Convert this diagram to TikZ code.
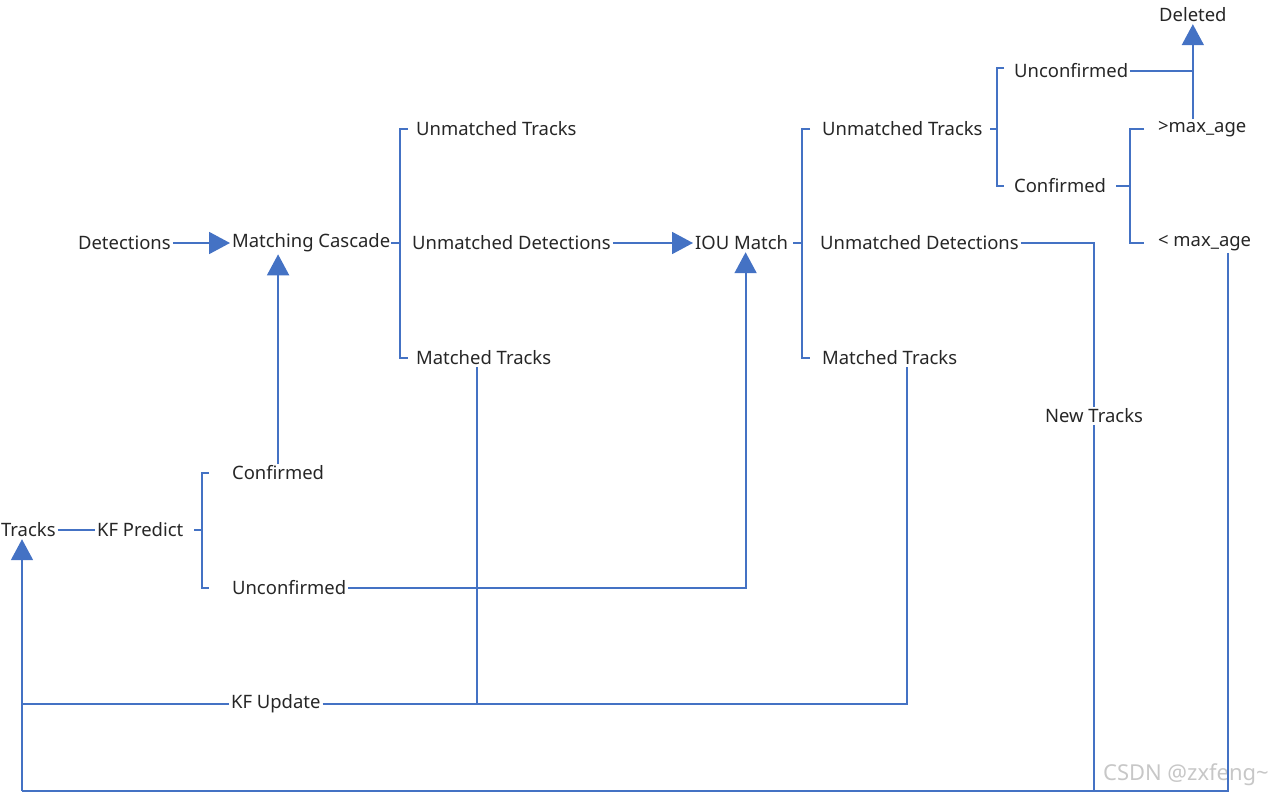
\documentclass[tikz,border=0pt]{standalone}
\usepackage{fontspec}
\setmainfont{Noto Sans}
\usetikzlibrary{arrows.meta, calc}
\definecolor{flowblue}{HTML}{4472C4}
\tikzstyle{txt} = [inner sep=1pt, anchor=west, font=\fontsize{10.5}{12}\selectfont, text=black!85]
\tikzstyle{link} = [draw=flowblue, line width=1.1pt]
\tikzstyle{arrow} = [link, -{Triangle[width=0.44cm, length=0.42cm]}]

\begin{document}
\begin{tikzpicture}[x=0.02cm, y=-0.02cm]
\useasboundingbox (0,0) rectangle (1280,797);

\node (det) [txt] at (76,243) {Detections};
\node (mc) [txt] at (230,243) {Matching Cascade};
\node (ut1) [txt] at (414,129) {Unmatched Tracks};
\node (ud1) [txt] at (410,243) {Unmatched Detections};
\node (mt1) [txt] at (414,358) {Matched Tracks};
\node (iou) [txt] at (693,243) {IOU Match};
\node (ut2) [txt] at (820,129) {Unmatched Tracks};
\node (ud2) [txt] at (818,243) {Unmatched Detections};
\node (mt2) [txt] at (820,358) {Matched Tracks};
\node (unc) [txt] at (1012,71) {Unconfirmed};
\node (conf) [txt] at (1012,186) {Confirmed};
\node (del) [txt] at (1157,15) {Deleted};
\node (gt) [txt] at (1156,129) {>max\_age};
\node (lt) [txt] at (1156,243) {< max\_age};
\node (nt) [txt, anchor=center] at (1094,416) {New Tracks};
\node (tracks) [txt] at (-1,530) {Tracks};
\node (kfp) [txt] at (95,530) {KF Predict};
\node (kconf) [txt] at (230,473) {Confirmed};
\node (kunc) [txt] at (230,588) {Unconfirmed};
\node (kfu) [txt] at (229,704) {KF Update};
\node (mark) [txt, text=black!22, font=\fontsize{12.5}{14}\selectfont] at (1101,775) {CSDN @zxfeng\textasciitilde};
\coordinate (bl) at (22,791);

% brackets
\draw [link] ($(ut1.west)+(-6,0)$) -- ++(-8,0) coordinate (b1) |- ($(mt1.west)+(-6,0)$);
\draw [link] (b1 |- mc) -- ++(-9,0);
\draw [link] ($(ut2.west)+(-10,0)$) -- ++(-8,0) coordinate (b2) |- ($(mt2.west)+(-10,0)$);
\draw [link] (b2 |- iou) -- ++(-9,0);
\draw [link] ($(unc.west)+(-8,-3)$) -- ++(-7,0) coordinate (b3) |- ($(conf.west)+(-8,0)$);
\draw [link] (b3 |- ut2) -- ++(-7,0);
\draw [link] ($(gt.west)+(-12,0)$) -- ++(-14,0) coordinate (b4) |- ($(lt.west)+(-12,0)$);
\draw [link] (b4 |- conf) -- ++(-14,0);
\draw [link] ($(kconf.west)+(-21,0)$) -- ++(-7,0) coordinate (b5) |- ($(kunc.west)+(-21,0)$);
\draw [link] (b5 |- kfp) -- ++(-8,0);

% arrows
\draw [arrow] (det) -- (mc);
\draw [arrow] (ud1) -- (iou);
\draw [arrow] (kconf.north) -- (kconf.north |- mc.south);
\draw [arrow] (kunc.east) -| ($(iou.south)+(4,0)$);
\draw [link] (unc.east) -- (unc.east -| del);
\draw [arrow] (gt.north -| del) -- (del.south);
\draw [link] (tracks) -- (kfp);

\draw [link] (ud2.east) -| (nt.north);
\draw [link] (nt.south) -- (nt |- bl);
\draw [link] ($(lt.south)+(23,0)$) |- (bl);
\draw [arrow] (bl) -- (bl |- tracks.south);

\draw [link] (kfu.west) -- (kfu.west -| bl);
\draw [link] (kfu.east) -| ($(mt2.south)+(17,0)$);
\draw [link] ($(mt1.south)+(-7,0)$) -- ($(mt1.south |- kfu)+(-7,0)$);

\end{tikzpicture}
\end{document}
